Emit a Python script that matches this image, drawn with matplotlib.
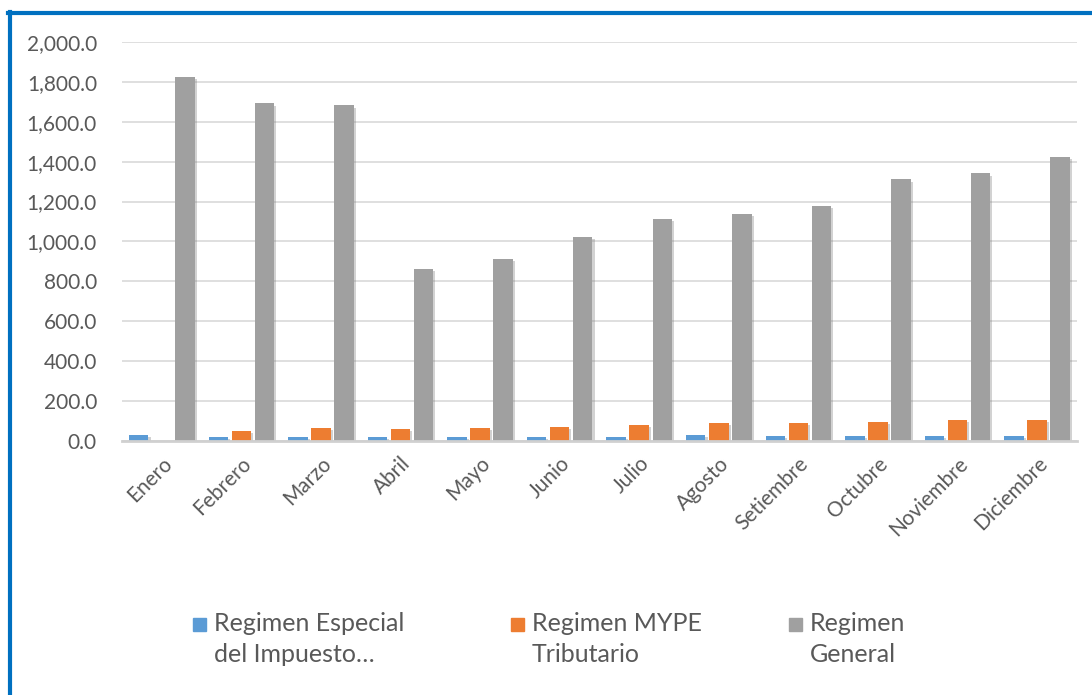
import numpy as np
import matplotlib.pyplot as plt
import matplotlib.patheffects as pe
from matplotlib.lines import Line2D
from matplotlib.patches import Rectangle

months = ['Enero', 'Febrero', 'Marzo', 'Abril', 'Mayo', 'Junio', 'Julio',
          'Agosto', 'Setiembre', 'Octubre', 'Noviembre', 'Diciembre']
especial = [30, 20, 20, 20, 20, 22, 22, 28, 25, 25, 25, 25]
mype = [0, 50, 65, 60, 65, 70, 80, 90, 90, 95, 105, 105]
general = [1825, 1692, 1682, 861, 911, 1021, 1111, 1136, 1176, 1311, 1341, 1422]

series = [
    ('Regimen Especial\ndel Impuesto…', especial, '#5B9BD5'),
    ('Regimen MYPE\nTributario', mype, '#ED7D31'),
    ('Regimen\nGeneral', general, '#A0A0A0'),
]

plt.rcParams['font.family'] = ['Lato', 'DejaVu Sans']
txt_color = '#595959'

fig = plt.figure(figsize=(10.92, 6.95), dpi=100)
ax = fig.add_axes([0.1117, 0.3655, 0.8745, 0.5741])

x = np.arange(len(months))
w = 0.245
shadow = [pe.SimplePatchShadow(offset=(1.5, -1.5), shadow_rgbFace='#808080', alpha=0.35), pe.Normal()]
for i, (name, vals, col) in enumerate(series):
    bars = ax.bar(x + (i - 1) * 0.29, vals, width=w, color=col, zorder=3)
    for b in bars:
        b.set_path_effects(shadow)

ax.set_xlim(-0.5, len(months) - 0.5)
ax.set_ylim(0, 2000)
ax.set_yticks(np.arange(0, 2001, 200))
ax.set_yticklabels([f'{v:,.1f}' for v in range(0, 2001, 200)])
ax.yaxis.grid(True, color='#D9D9D9', linewidth=1.2, zorder=0)
ax.set_axisbelow(True)
for s in ['top', 'right', 'left']:
    ax.spines[s].set_visible(False)
ax.spines['bottom'].set_color('#D0D0D0')
ax.spines['bottom'].set_linewidth(2)
ax.spines['bottom'].set_zorder(4)
ax.tick_params(axis='both', length=0, labelsize=15, labelcolor=txt_color)
ax.tick_params(axis='y', pad=18)
ax.set_xticks(x)
ax.set_xticklabels(months, rotation=45, ha='right', rotation_mode='anchor')
ax.tick_params(axis='x', pad=9)

# legend drawn by hand: square next to the first line, text left aligned
leg_pos = [193, 511, 789]
W, H = 1092, 695
for px, (name, _, col) in zip(leg_pos, series):
    fig.patches.append(Rectangle((px / W, 1 - 631 / H), 13 / W, 13 / H,
                                 transform=fig.transFigure, color=col))
    fig.text((px + 21) / W, 1 - 612 / H, name, fontsize=18, color=txt_color,
             va='top', ha='left', multialignment='left', linespacing=1.42)

# blue frame (top and left edges visible)
fig.add_artist(Line2D([8 / W, 1], [1 - 13 / H, 1 - 13 / H], color='#0070C0', lw=3, transform=fig.transFigure))
fig.add_artist(Line2D([9.5 / W, 9.5 / W], [0, 1 - 12 / H], color='#0070C0', lw=3, transform=fig.transFigure))

fig.savefig('out.png', dpi=100)
